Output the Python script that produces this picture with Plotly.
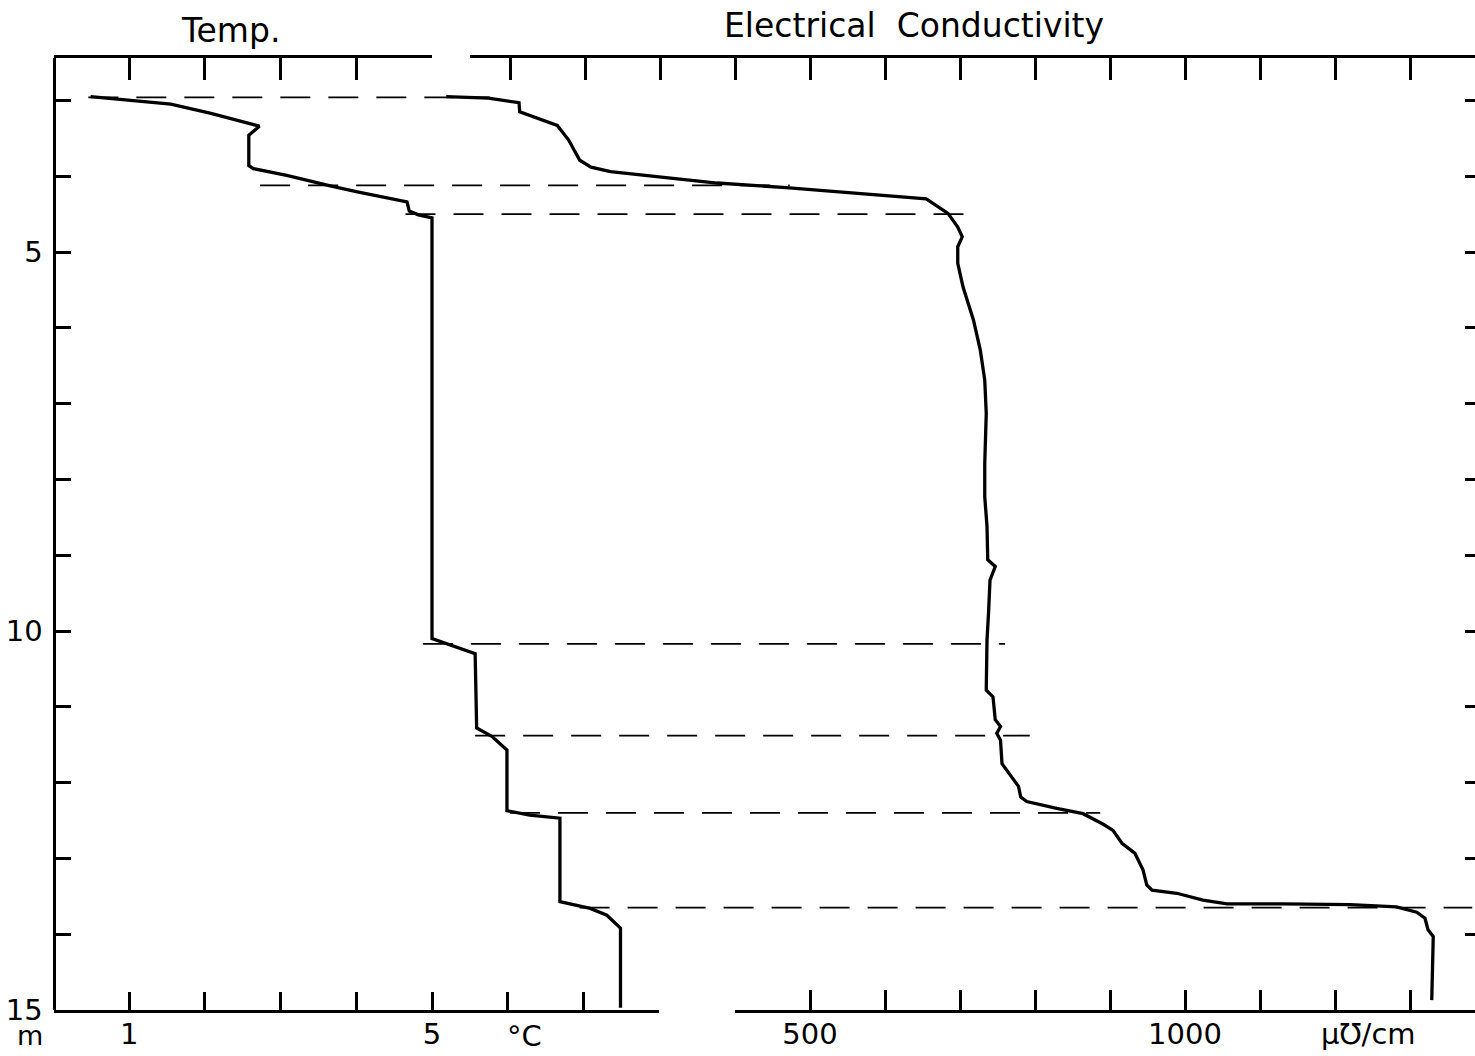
import plotly.graph_objects as go

# ---------------- data ----------------
# Temperature profile: depth (m) and temperature (deg C)
temp_depth = [2.95, 3.05, 3.17, 3.34, 3.46, 3.86, 3.90, 3.99, 4.13, 4.21, 4.34, 4.46, 4.51, 4.55,
              10.10, 10.23, 10.30, 11.28, 11.39, 11.57, 12.37, 12.43, 12.47, 13.57, 13.66, 13.75,
              13.92, 14.97]
temp_value = [0.49, 1.55, 2.08, 2.72, 2.58, 2.58, 2.64, 3.08, 3.67, 4.03, 4.67, 4.70, 4.82, 5.00,
              5.00, 5.35, 5.57, 5.59, 5.79, 5.99, 5.99, 6.29, 6.69, 6.69, 7.09, 7.31, 7.49, 7.49]

# Electrical conductivity profile: depth (m) and conductivity (micro-mho/cm)
cond_depth = [2.95, 2.97, 3.03, 3.15, 3.33, 3.52, 3.79, 3.88, 3.94, 4.09, 4.15, 4.30, 4.49, 4.67,
              4.80, 4.93, 5.15, 5.46, 5.90, 6.29, 6.69, 7.13, 7.79, 8.23, 8.62, 9.06, 9.15, 9.33,
              9.77, 10.12, 10.78, 10.87, 11.17, 11.26, 11.35, 11.44, 11.75, 11.92, 12.05, 12.19,
              12.25, 12.34, 12.41, 12.55, 12.63, 12.80, 12.93, 13.15, 13.35, 13.42, 13.46, 13.55,
              13.60, 13.60, 13.61, 13.64, 13.71, 13.79, 13.94, 14.03, 14.87]
cond_value = [15, 71, 112, 113, 163, 178, 193, 208, 234, 376, 468, 655, 684, 697,
              703, 697, 697, 704, 718, 727, 733, 735, 733, 733, 736, 737, 747, 740,
              738, 736, 735, 744, 747, 754, 749, 754, 756, 769, 778, 781,
              789, 829, 864, 891, 904, 916, 933, 944, 949, 956, 989, 1024,
              1056, 1131, 1220, 1282, 1309, 1320, 1324, 1331, 1329]

# Dashed connector lines: depth, start (temperature), end (conductivity)
dash_depth = [2.96, 4.12, 4.50, 10.17, 11.38, 12.40, 13.65]
dash_temp_start = [0.46, 2.73, 4.65, 4.88, 5.57, 6.03, 6.95]
dash_cond_end = [73, 473, 720, 760, 793, 887, 1383]

# Axis ticks / labels
depth_ticks = list(range(3, 16))
depth_labels = ["5" if d == 5 else "10" if d == 10 else "15" if d == 15 else "" for d in depth_ticks]
temp_ticks = [1, 2, 3, 4, 5, 6, 7, 8]
temp_labels = ["1", "", "", "", "5", "", "", ""]
temp_top_ticks = [1, 2, 3, 4, 5]
cond_bottom_ticks = [400, 500, 600, 700, 800, 900, 1000, 1100, 1200, 1300]
cond_bottom_labels = ["", "500", "", "", "", "", "1000", "", "", ""]
cond_top_ticks = [100, 200, 300, 400, 500, 600, 700, 800, 900, 1000, 1100, 1200, 1300]
right_depth_ticks = list(range(3, 15))

# ---------------- layout geometry ----------------
W, H = 1475, 1056
T_PX0, T_PX_PER = 53.5, 75.7        # pixel of 0 degC, pixels per degC
C_PX500, C_PX_PER = 810.0, 0.75     # pixel of 500 units, pixels per unit
Y_TOP_PX, Y_BOT_PX = 58, 1010
D_BOT, D_PX_PER = 15.0, 75.8
D_TOP = D_BOT - (Y_BOT_PX - Y_TOP_PX) / D_PX_PER


def t_at_px(px):
    return (px - T_PX0) / T_PX_PER


def c_at_px(px):
    return 500 + (px - C_PX500) / C_PX_PER


def px_of_t(t):
    return T_PX0 + t * T_PX_PER


def px_of_c(c):
    return C_PX500 + (c - 500) * C_PX_PER


def t_to_c(t):
    return c_at_px(px_of_t(t))


FONT = "DejaVu Sans"
LW = 3.3

fig = go.Figure()

# dashed connectors (drawn on the conductivity data axis, right depth axis)
dx, dy = [], []
for d, ts, ce in zip(dash_depth, dash_temp_start, dash_cond_end):
    dx += [t_to_c(ts), ce, None]
    dy += [d, d, None]
fig.add_trace(go.Scatter(x=dx, y=dy, xaxis="x2", yaxis="y2", mode="lines",
                         line=dict(color="black", width=1.8, dash="30px,18px"),
                         hoverinfo="skip"))

fig.add_trace(go.Scatter(x=temp_value, y=temp_depth, xaxis="x", yaxis="y", mode="lines",
                         line=dict(color="black", width=LW), name="Temp."))
fig.add_trace(go.Scatter(x=cond_value, y=cond_depth, xaxis="x2", yaxis="y", mode="lines",
                         line=dict(color="black", width=LW), name="Electrical Conductivity"))

tick_font = dict(family=FONT, size=29, color="black")
common = dict(showgrid=False, zeroline=False, linecolor="black", linewidth=3,
              tickcolor="black", tickwidth=3, ticks="inside", tickfont=tick_font,
              automargin=False)

fig.update_layout(
    width=W, height=H, autosize=False,
    margin=dict(l=0, r=0, t=0, b=0, pad=0, autoexpand=False),
    paper_bgcolor="white", plot_bgcolor="rgba(0,0,0,0)",
    showlegend=False,
    font=dict(family=FONT, color="black"),
    # hidden data axes spanning the full width
    xaxis=dict(domain=[0, 1], range=[t_at_px(0), t_at_px(W)], visible=False, anchor="y",
               automargin=False),
    xaxis2=dict(domain=[0, 1], range=[c_at_px(0), c_at_px(W)], visible=False,
                overlaying="x", anchor="y", automargin=False),
    # depth axis (left)
    yaxis=dict(domain=[1 - Y_BOT_PX / H, 1 - Y_TOP_PX / H], range=[D_BOT, D_TOP],
               anchor="free", position=T_PX0 / W, showline=True,
               tickvals=depth_ticks, ticktext=depth_labels, ticklen=15,
               ticklabelstandoff=4, **common),
    # right-hand tick marks
    yaxis2=dict(domain=[1 - Y_BOT_PX / H, 1 - Y_TOP_PX / H], range=[D_BOT, D_TOP],
                overlaying="y", side="right", anchor="free", position=1,
                showline=False, tickvals=right_depth_ticks, showticklabels=False,
                ticklen=10, **common),
    # temperature bottom axis
    xaxis3=dict(domain=[T_PX0 / W, px_of_t(8) / W], range=[0, 8], anchor="y",
                side="bottom", showline=True, tickvals=temp_ticks, ticktext=temp_labels,
                ticklen=18, ticklabelstandoff=-4, **common),
    # temperature top axis
    xaxis4=dict(domain=[T_PX0 / W, px_of_t(5) / W], range=[0, 5], anchor="y",
                side="top", showline=True, tickvals=temp_top_ticks, showticklabels=False,
                ticklen=22, **common),
    # conductivity bottom axis
    xaxis5=dict(domain=[px_of_c(400) / W, 1], range=[400, c_at_px(W)], anchor="y",
                side="bottom", showline=True, tickvals=cond_bottom_ticks,
                ticktext=cond_bottom_labels, ticklen=20, ticklabelstandoff=-4, **common),
    # conductivity top axis
    xaxis6=dict(domain=[470 / W, 1], range=[c_at_px(470), c_at_px(W)], anchor="free",
                position=1 - 56 / H, side="top", showline=True, tickvals=cond_top_ticks,
                showticklabels=False, ticklen=22, **common),
)

ann_font = dict(family=FONT, size=33, color="black")
# titles are tied to the top axes (this also registers those axes for drawing)
fig.add_annotation(text="Temp.", x=t_at_px(230), y=1 - 30 / H, xref="x4", yref="paper",
                   showarrow=False, font=ann_font, xanchor="center", yanchor="middle")
fig.add_annotation(text="Electrical\u00a0\u00a0Conductivity", x=c_at_px(914), y=1 - 25 / H,
                   xref="x6", yref="paper", showarrow=False, font=ann_font,
                   xanchor="center", yanchor="middle")
fig.add_annotation(text="m", x=30 / W, y=1 - 1035 / H, xref="paper", yref="paper",
                   showarrow=False, font=dict(family=FONT, size=27, color="black"),
                   xanchor="center", yanchor="middle")
fig.add_annotation(text="°C", x=t_at_px(524), y=1 - 1036 / H, xref="x3", yref="paper",
                   showarrow=False, font=tick_font, xanchor="center", yanchor="middle")
fig.add_annotation(text="μ℧/cm", x=c_at_px(1368), y=1 - 1034 / H, xref="x5", yref="paper",
                   showarrow=False, font=tick_font, xanchor="center", yanchor="middle")

fig.write_html(
    "out.html",
    config={"responsive": False, "displayModeBar": False},
    post_script="document.body.style.margin='0px';document.body.style.overflow='hidden';",
)
